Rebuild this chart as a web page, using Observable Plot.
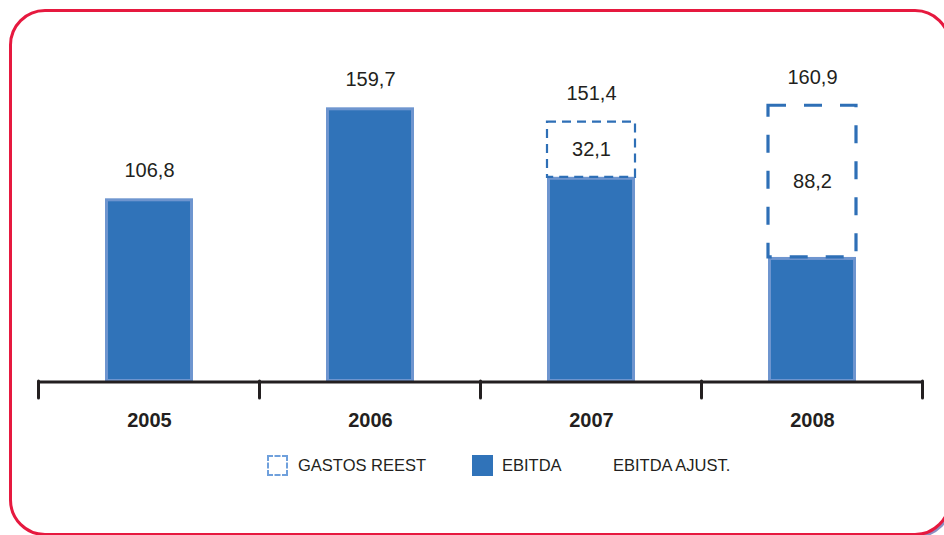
<!DOCTYPE html>
<html>
<head>
<meta charset="utf-8">
<script src="https://cdn.jsdelivr.net/npm/d3@7"></script>
<script src="https://cdn.jsdelivr.net/npm/@observablehq/plot@0.6"></script>
<style>
  html, body { margin: 0; padding: 0; background: #fff; }
  #page { position: relative; width: 944px; height: 535px; overflow: hidden; font-family: "Liberation Sans", Arial, sans-serif; color: #231f20; }
  #shadow { position: absolute; left: 16px; top: 14px; width: 936px; height: 524px; border-radius: 36px; background: #8c90c4; }
  #frame { position: absolute; left: 9px; top: 9px; width: 936px; height: 521px; border: 3px solid #e6193f; border-radius: 36px; background: #fff; }
  #chart { position: absolute; left: 0; top: 0; }
  .leg { position: absolute; top: 455px; height: 21px; line-height: 21px; font-size: 16.5px; white-space: nowrap; }
  .sw { position: absolute; top: 455px; width: 21px; height: 21px; box-sizing: border-box; }
</style>
</head>
<body>
<div id="page">
  <div id="shadow"></div>
  <div id="frame"></div>
  <div id="chart"></div>
  <div class="sw" style="left:267px; border: 2px dashed #6fa0dc;"></div>
  <div class="leg" style="left:298px;">GASTOS REEST</div>
  <div class="sw" style="left:472px; background:#3073b9;"></div>
  <div class="leg" style="left:502px;">EBITDA</div>
  <div class="leg" style="left:613px;">EBITDA AJUST.</div>
</div>
<script>
const years = ["2005", "2006", "2007", "2008"];
const ebitda = [106.8, 159.7, 119.3, 72.7];
const gastos = [0, 0, 32.1, 88.2];
const ajust = [106.8, 159.7, 151.4, 160.9];

const rows = years.map((year, i) => ({year, ebitda: ebitda[i], gastos: gastos[i], ajust: ajust[i], top: ebitda[i] + gastos[i]}));
const withG = rows.filter(d => d.gastos > 0);
const fmt = v => v.toFixed(1).replace(".", ",");
const ink = "#231f20";
const blue = "#3073b9";

const axisMark = (index, scales, values, dimensions) => {
  const x = scales.x, y = scales.y;
  const bw = x.bandwidth ? x.bandwidth() : 0;
  const step = x.step ? x.step() : (x(years[1]) - x(years[0]));
  const y0 = y(0);
  const bounds = [x(years[0]) + bw / 2 - step / 2, ...years.map(c => x(c) + bw / 2 + step / 2)];
  const g = d3.create("svg:g");
  g.append("path")
    .attr("d", `M${bounds[0]},${y0} H${bounds[bounds.length - 1]}`)
    .attr("stroke", ink).attr("stroke-width", 3).attr("fill", "none");
  bounds.forEach(bx => {
    g.append("path")
      .attr("d", `M${bx},${y0 - 1} V${y0 + 16}`)
      .attr("stroke", ink).attr("stroke-width", 3).attr("stroke-linecap", "round").attr("fill", "none");
  });
  return g.node();
};

const plot = Plot.plot({
  width: 944,
  height: 440,
  marginLeft: 38,
  marginRight: 21,
  marginTop: 0,
  marginBottom: 0,
  style: {background: "transparent", fontFamily: "'Liberation Sans', Arial, sans-serif", color: ink},
  x: {domain: years, range: [38, 923], paddingInner: 0.6, paddingOuter: 0.3, axis: null},
  y: {domain: [0, 200], range: [382, 38], axis: null},
  marks: [
    Plot.barY(rows, {x: "year", y: "ebitda", fill: "#6e95cf", ariaLabel: "bar-outer"}),
    Plot.barY(rows, {x: "year", y: "ebitda", fill: blue, inset: 3, ariaLabel: "bar-inner"}),
    Plot.barY(withG.filter(d => d.year === "2007"), {x: "year", y1: "ebitda", y2: "top", fill: "none", stroke: "#2e6fb6", strokeWidth: 2.2, strokeDasharray: "9,6"}),
    Plot.barY(withG.filter(d => d.year === "2008"), {x: "year", y1: "ebitda", y2: "top", fill: "none", stroke: "#2e6fb6", strokeWidth: 3.2, strokeDasharray: "18,18"}),
    axisMark,
    Plot.text(rows, {x: "year", y: "ajust", text: d => fmt(d.ajust), dy: -28, fontSize: 20, fill: ink}),
    Plot.text(withG, {x: "year", y: d => d.ebitda + d.gastos / 2, text: d => fmt(d.gastos), fontSize: 20, fill: ink}),
    Plot.text(rows, {x: "year", y: 0, text: "year", dy: 38, fontSize: 20, fontWeight: "bold", fill: ink})
  ]
});
document.getElementById("chart").appendChild(plot);
const defs = d3.select(plot).insert("defs", ":first-child");
defs.append("filter").attr("id", "soft").attr("x", "-10%").attr("y", "-10%").attr("width", "120%").attr("height", "120%")
  .append("feGaussianBlur").attr("stdDeviation", 2);
const inner = plot.querySelector('g[aria-label="bar-inner"]');
if (inner) inner.setAttribute("filter", "url(#soft)");
</script>
</body>
</html>
